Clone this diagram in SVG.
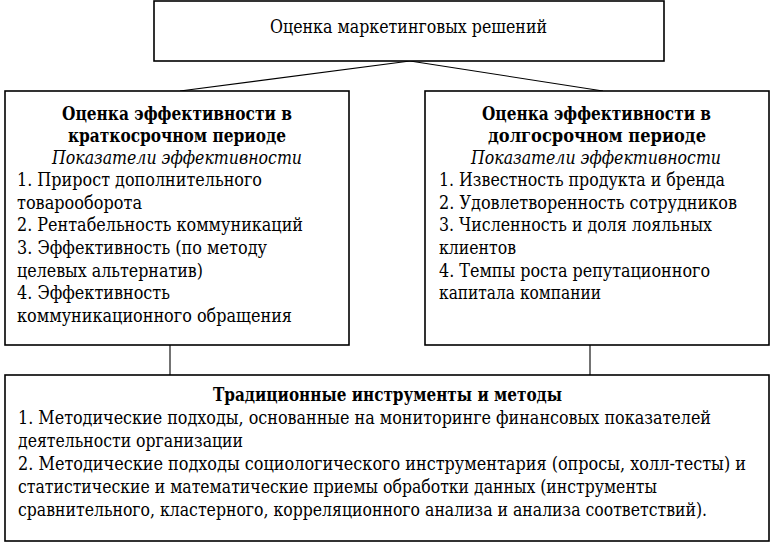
<svg xmlns="http://www.w3.org/2000/svg" width="779" height="550" viewBox="0 0 779 550">
<style>
.box{fill:#fff;stroke:#000;stroke-width:1.6}
.ln{stroke:#000;stroke-width:1.1;fill:none}
.b{font-weight:bold}
.i{font-style:italic}
</style>
<rect width="779" height="550" fill="#fff"/>
<g id="connectors">
<line class="ln" x1="410" y1="61" x2="180" y2="91"/>
<line class="ln" x1="410" y1="61" x2="603" y2="91"/>
<line class="ln" x1="170" y1="345" x2="170" y2="375"/>
<line class="ln" x1="590" y1="345" x2="590" y2="375"/>
</g>
<g font-family="'DejaVu Serif Condensed', 'DejaVu Serif', serif" font-size="18" fill="#000" lengthAdjust="spacingAndGlyphs">
<g id="top">
<rect class="box" x="154" y="1" width="510" height="60"/>
<text x="270" y="33" textLength="277" lengthAdjust="spacingAndGlyphs">Оценка маркетинговых решений</text>
</g>
<g id="short">
<rect class="box" x="5" y="91" width="344" height="254"/>
<text class="b" x="62" y="120" textLength="230" lengthAdjust="spacingAndGlyphs">Оценка эффективности в</text>
<text class="b" x="68" y="141.5" textLength="218" lengthAdjust="spacingAndGlyphs">краткосрочном периоде</text>
<text class="i" x="52" y="163.5" textLength="250" lengthAdjust="spacingAndGlyphs">Показатели эффективности</text>
<text x="17" y="186" textLength="245" lengthAdjust="spacingAndGlyphs">1. Прирост дополнительного</text>
<text x="17" y="208.5" textLength="125" lengthAdjust="spacingAndGlyphs">товарооборота</text>
<text x="17" y="231" textLength="286" lengthAdjust="spacingAndGlyphs">2. Рентабельность коммуникаций</text>
<text x="17" y="254" textLength="250" lengthAdjust="spacingAndGlyphs">3. Эффективность (по методу</text>
<text x="17" y="276.5" textLength="186" lengthAdjust="spacingAndGlyphs">целевых альтернатив)</text>
<text x="17" y="299" textLength="153" lengthAdjust="spacingAndGlyphs">4. Эффективность</text>
<text x="17" y="321.5" textLength="275" lengthAdjust="spacingAndGlyphs">коммуникационного обращения</text>
</g>
<g id="long">
<rect class="box" x="425" y="91" width="344" height="254"/>
<text class="b" x="482" y="120" textLength="229" lengthAdjust="spacingAndGlyphs">Оценка эффективности в</text>
<text class="b" x="488" y="141.5" textLength="218" lengthAdjust="spacingAndGlyphs">долгосрочном периоде</text>
<text class="i" x="471" y="163.5" textLength="250" lengthAdjust="spacingAndGlyphs">Показатели эффективности</text>
<text x="439" y="186" textLength="286" lengthAdjust="spacingAndGlyphs">1. Известность продукта и бренда</text>
<text x="439" y="208.5" textLength="298" lengthAdjust="spacingAndGlyphs">2. Удовлетворенность сотрудников</text>
<text x="439" y="231" textLength="273" lengthAdjust="spacingAndGlyphs">3. Численность и доля лояльных</text>
<text x="439" y="254" textLength="77" lengthAdjust="spacingAndGlyphs">клиентов</text>
<text x="439" y="276.5" textLength="271" lengthAdjust="spacingAndGlyphs">4. Темпы роста репутационного</text>
<text x="439" y="299" textLength="162" lengthAdjust="spacingAndGlyphs">капитала компании</text>
</g>
<g id="methods">
<rect class="box" x="5" y="375" width="764" height="166"/>
<text class="b" x="213" y="401" textLength="349" lengthAdjust="spacingAndGlyphs">Традиционные инструменты и методы</text>
<text x="18" y="424" textLength="693" lengthAdjust="spacingAndGlyphs">1. Методические подходы, основанные на мониторинге финансовых показателей</text>
<text x="18" y="447" textLength="225" lengthAdjust="spacingAndGlyphs">деятельности организации</text>
<text x="18" y="470" textLength="728" lengthAdjust="spacingAndGlyphs">2. Методические подходы социологического инструментария (опросы, холл-тесты) и</text>
<text x="18" y="493" textLength="639" lengthAdjust="spacingAndGlyphs">статистические и математические приемы обработки данных (инструменты</text>
<text x="18" y="516" textLength="689" lengthAdjust="spacingAndGlyphs">сравнительного, кластерного, корреляционного анализа и анализа соответствий).</text>
</g>
</g>
</svg>
